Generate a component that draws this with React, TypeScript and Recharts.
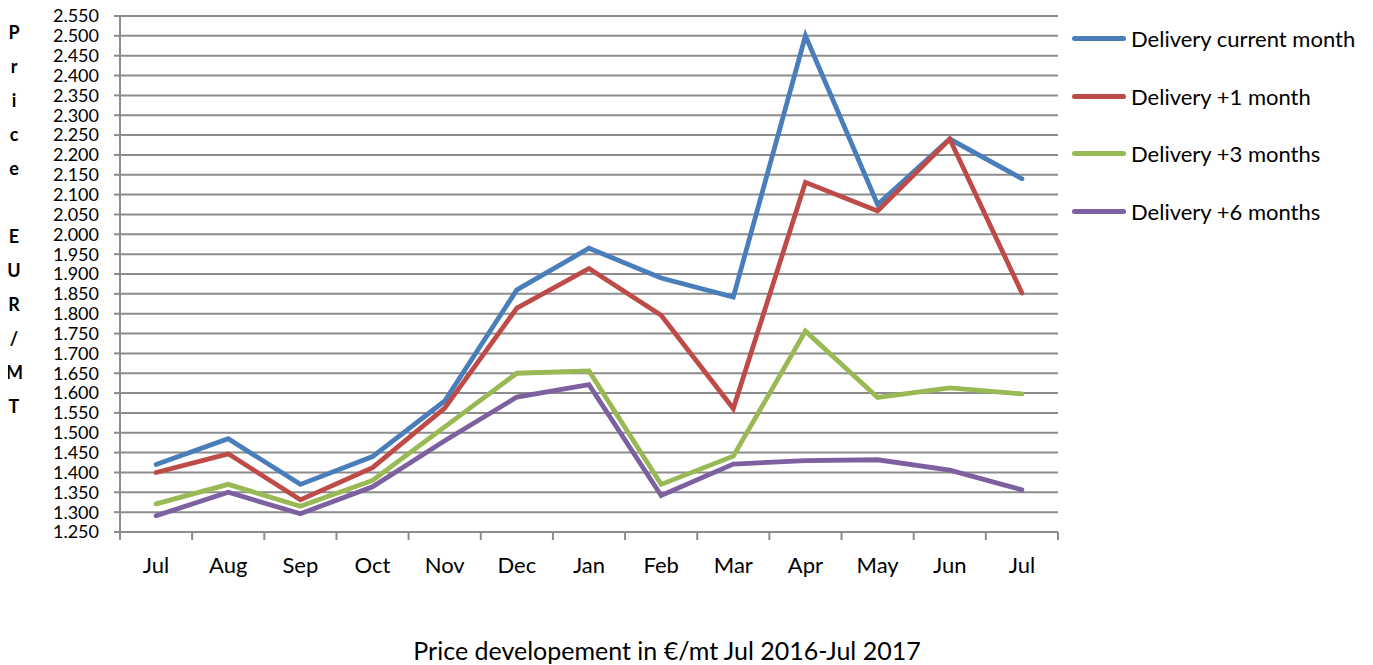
import { CartesianGrid, Legend, Line, LineChart, XAxis, YAxis } from "recharts";

const MONTHS = ["Jul", "Aug", "Sep", "Oct", "Nov", "Dec", "Jan", "Feb", "Mar", "Apr", "May", "Jun", "Jul"];

const CURRENT_MONTH = [1420, 1485, 1370, 1440, 1580, 1860, 1965, 1890, 1842, 2500, 2075, 2240, 2140];
const PLUS_ONE = [1400, 1447, 1331, 1412, 1562, 1814, 1914, 1796, 1561, 2131, 2059, 2240, 1852];
const PLUS_THREE = [1321, 1370, 1315, 1380, 1515, 1650, 1656, 1370, 1441, 1756, 1589, 1613, 1598];
const PLUS_SIX = [1291, 1350, 1296, 1364, 1480, 1590, 1621, 1342, 1421, 1430, 1432, 1406, 1356];

const Y_TICKS = Array.from({ length: 27 }, (_, i) => 1250 + i * 50);
const AXIS_TITLE = ["P", "r", "i", "c", "e", "", "E", "U", "R", "/", "M", "T"];
const TITLE = "Price developement in €/mt Jul 2016-Jul 2017";

const SERIES = [
  { key: "current", name: "Delivery current month", color: "#4A7EBB" },
  { key: "plus1", name: "Delivery +1 month", color: "#BE4B48" },
  { key: "plus3", name: "Delivery +3 months", color: "#98B954" },
  { key: "plus6", name: "Delivery +6 months", color: "#7D60A0" },
];

const data = MONTHS.map((month, i) => ({
  month,
  pos: i + 0.5,
  current: CURRENT_MONTH[i],
  plus1: PLUS_ONE[i],
  plus3: PLUS_THREE[i],
  plus6: PLUS_SIX[i],
}));

const boundaryTicks = MONTHS.map((_, i) => i).concat(MONTHS.length);
const centerTicks = MONTHS.map((_, i) => i + 0.5);

const GRID = "#8c8c8c";

function LegendBox() {
  return (
    <div>
      {SERIES.map((s) => (
        <div key={s.key} style={{ display: "flex", alignItems: "center", height: 57.5 }}>
          <div style={{ width: 54, height: 5, borderRadius: 3, background: s.color, marginRight: 5 }} />
          <span style={{ fontSize: 22, color: "#000", whiteSpace: "nowrap" }}>{s.name}</span>
        </div>
      ))}
    </div>
  );
}

export default function App() {
  return (
    <div
      style={{
        position: "relative",
        width: 1360,
        height: 665,
        marginTop: -8,
        fontFamily: "Lato, sans-serif",
      }}
    >
      <LineChart width={1360} height={665} data={data} margin={{ top: 16, right: 310, bottom: 83, left: 0 }}>
        <CartesianGrid xAxisId="grid" horizontal vertical={false} stroke={GRID} strokeWidth={2} />
        <XAxis
          xAxisId="grid"
          type="number"
          dataKey="pos"
          domain={[0, MONTHS.length]}
          ticks={boundaryTicks}
          interval={0}
          height={10}
          tickSize={8}
          tickFormatter={() => ""}
          stroke={GRID}
          strokeWidth={2}
        />
        <XAxis
          xAxisId="labels"
          type="number"
          dataKey="pos"
          domain={[0, MONTHS.length]}
          ticks={centerTicks}
          interval={0}
          height={40}
          axisLine={false}
          tickLine={false}
          tickSize={0}
          tickMargin={15}
          tickFormatter={(v: number) => MONTHS[Math.floor(v)]}
          tick={{ fontSize: 22, fill: "#000" }}
        />
        <YAxis
          domain={[1250, 2550]}
          ticks={Y_TICKS}
          interval={0}
          width={112}
          tickSize={6}
          tickMargin={15}
          stroke={GRID}
          strokeWidth={2}
          tickFormatter={(v: number) => (v / 1000).toFixed(3)}
          tick={{ fontSize: 18, fill: "#000" }}
        />
        <Legend
          layout="vertical"
          align="center"
          verticalAlign="middle"
          content={() => <LegendBox />}
          wrapperStyle={{ left: 1064, top: 10, width: 300 }}
        />
        {SERIES.map((s) => (
          <Line
            key={s.key}
            xAxisId="grid"
            dataKey={s.key}
            name={s.name}
            type="linear"
            stroke={s.color}
            strokeWidth={4.8}
            strokeLinecap="round"
            dot={false}
            isAnimationActive={false}
          />
        ))}
      </LineChart>
      <div style={{ position: "absolute", left: -2, top: 15, width: 16, textAlign: "center" }}>
        {AXIS_TITLE.map((c, i) => (
          <div key={i} style={{ height: 34, lineHeight: "34px", fontSize: 18, fontWeight: 700 }}>
            {c}
          </div>
        ))}
      </div>
      <div
        style={{
          position: "absolute",
          left: 0,
          width: 1318,
          top: 637,
          height: 26,
          lineHeight: "26px",
          textAlign: "center",
          fontSize: 25,
          whiteSpace: "nowrap",
        }}
      >
        {TITLE}
      </div>
    </div>
  );
}
